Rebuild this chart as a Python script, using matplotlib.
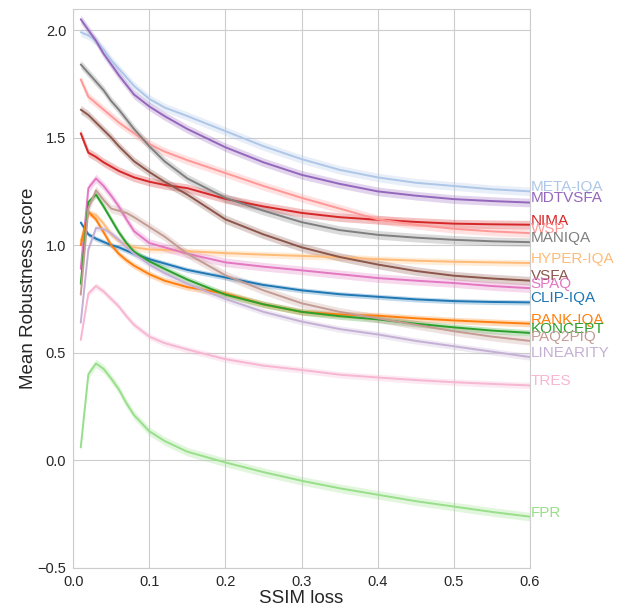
import matplotlib
matplotlib.use("Agg")
import matplotlib.pyplot as plt
import numpy as np
import seaborn as sns

sns.set_style("whitegrid")
plt.rcParams['font.family'] = ['Liberation Sans', 'DejaVu Sans']

# SSIM loss sample points
ssim_loss = [0.01, 0.02, 0.03, 0.04, 0.05, 0.06, 0.07, 0.08, 0.10, 0.12,
             0.15, 0.20, 0.25, 0.30, 0.35, 0.40, 0.45, 0.50, 0.55, 0.60]

# mean robustness score per metric
meta_iqa = [1.99, 1.975, 1.95, 1.91, 1.86, 1.82, 1.78, 1.74, 1.68, 1.64,
            1.60, 1.53, 1.46, 1.40, 1.35, 1.315, 1.29, 1.275, 1.26, 1.25]
mdtvsfa = [2.05, 2.00, 1.95, 1.89, 1.84, 1.79, 1.745, 1.70, 1.645, 1.60,
           1.54, 1.455, 1.385, 1.327, 1.285, 1.25, 1.23, 1.214, 1.205, 1.198]
nima = [1.52, 1.43, 1.41, 1.385, 1.365, 1.345, 1.33, 1.315, 1.295, 1.28,
        1.265, 1.215, 1.18, 1.15, 1.13, 1.118, 1.108, 1.10, 1.097, 1.095]
wsp = [1.77, 1.69, 1.66, 1.63, 1.60, 1.57, 1.545, 1.52, 1.47, 1.435,
       1.395, 1.335, 1.275, 1.22, 1.17, 1.12, 1.095, 1.076, 1.064, 1.056]
maniqa = [1.84, 1.80, 1.76, 1.72, 1.67, 1.63, 1.585, 1.54, 1.46, 1.39,
          1.31, 1.22, 1.16, 1.107, 1.07, 1.048, 1.035, 1.025, 1.018, 1.014]
hyper_iqa = [1.02, 1.15, 1.14, 1.10, 1.05, 1.02, 1.00, 0.99, 0.98, 0.978,
             0.972, 0.963, 0.956, 0.95, 0.944, 0.935, 0.928, 0.923, 0.92, 0.917]
vsfa = [1.63, 1.605, 1.57, 1.535, 1.50, 1.46, 1.425, 1.39, 1.34, 1.295,
        1.235, 1.12, 1.05, 0.99, 0.945, 0.91, 0.88, 0.858, 0.845, 0.835]
spaq = [0.89, 1.265, 1.31, 1.275, 1.23, 1.18, 1.12, 1.065, 1.01, 0.99,
        0.96, 0.92, 0.90, 0.883, 0.865, 0.847, 0.835, 0.824, 0.81, 0.80]
clip_iqa = [1.105, 1.05, 1.03, 1.015, 1.00, 0.99, 0.975, 0.96, 0.935, 0.915,
            0.885, 0.85, 0.815, 0.79, 0.772, 0.76, 0.748, 0.74, 0.736, 0.734]
rank_iqa = [1.00, 1.155, 1.12, 1.06, 1.00, 0.96, 0.93, 0.905, 0.865, 0.835,
            0.805, 0.775, 0.725, 0.69, 0.678, 0.672, 0.66, 0.65, 0.642, 0.635]
koncept = [0.82, 1.20, 1.235, 1.18, 1.12, 1.06, 1.01, 0.97, 0.925, 0.89,
           0.84, 0.77, 0.725, 0.69, 0.67, 0.655, 0.635, 0.618, 0.603, 0.592]
paq2piq = [0.77, 1.17, 1.255, 1.21, 1.17, 1.16, 1.15, 1.13, 1.085, 1.04,
           0.96, 0.86, 0.79, 0.73, 0.69, 0.66, 0.63, 0.60, 0.575, 0.555]
linearity = [0.64, 0.98, 1.08, 1.075, 1.055, 1.025, 0.99, 0.96, 0.91, 0.87,
             0.82, 0.75, 0.69, 0.645, 0.61, 0.585, 0.555, 0.53, 0.505, 0.48]
tres = [0.56, 0.775, 0.81, 0.785, 0.75, 0.715, 0.67, 0.63, 0.575, 0.545,
        0.515, 0.47, 0.44, 0.42, 0.398, 0.385, 0.373, 0.363, 0.355, 0.348]
fpr = [0.06, 0.40, 0.45, 0.425, 0.38, 0.33, 0.265, 0.21, 0.135, 0.09,
       0.04, -0.01, -0.055, -0.095, -0.13, -0.16, -0.19, -0.215, -0.24, -0.262]

names = ["META-IQA", "MDTVSFA", "NIMA", "WSP", "MANIQA", "HYPER-IQA", "VSFA",
         "SPAQ", "CLIP-IQA", "RANK-IQA", "KONCEPT", "PAQ2PIQ", "LINEARITY",
         "TRES", "FPR"]
series = [meta_iqa, mdtvsfa, nima, wsp, maniqa, hyper_iqa, vsfa, spaq,
          clip_iqa, rank_iqa, koncept, paq2piq, linearity, tres, fpr]
# approximate confidence band half-widths
ci_half = [0.02, 0.02, 0.02, 0.02, 0.02, 0.015, 0.02, 0.02,
           0.012, 0.015, 0.015, 0.02, 0.015, 0.015, 0.02]

colors = ["#aec7e8", "#9467bd", "#d62728", "#ff9896", "#7f7f7f", "#ffbb78",
          "#8c564b", "#e377c2", "#1f77b4", "#ff7f0e", "#2ca02c", "#c49c94",
          "#c5b0d5", "#f7b6d2", "#98df8a"]

fig = plt.figure(figsize=(6.25, 6.08), dpi=100)
ax = fig.add_axes([0.117, 0.066, 0.731, 0.920])

x = np.array(ssim_loss)
for name, vals, ci, col in zip(names, series, ci_half, colors):
    y = np.array(vals)
    ax.fill_between(x, y - ci, y + ci, color=col, alpha=0.28, linewidth=0)
    ax.plot(x, y, color=col, linewidth=1.4)
    # label just right of the line end, slightly raised
    ax.annotate(name, xy=(x[-1], y[-1]), xytext=(0.5, 3),
                textcoords="offset points", color=col, fontsize=11,
                va="center", ha="left", annotation_clip=False)

ax.set_xlim(0, 0.6)
ax.set_ylim(-0.5, 2.1)
ax.set_xticks([0.0, 0.1, 0.2, 0.3, 0.4, 0.5, 0.6])
ax.set_yticks([-0.5, 0.0, 0.5, 1.0, 1.5, 2.0])
ax.tick_params(labelsize=10.5, pad=1.5)
ax.set_xlabel("SSIM loss", fontsize=13.5, labelpad=1)
ax.set_ylabel("Mean Robustness score", fontsize=13.5, labelpad=0)

fig.savefig("out.png", dpi=100)
